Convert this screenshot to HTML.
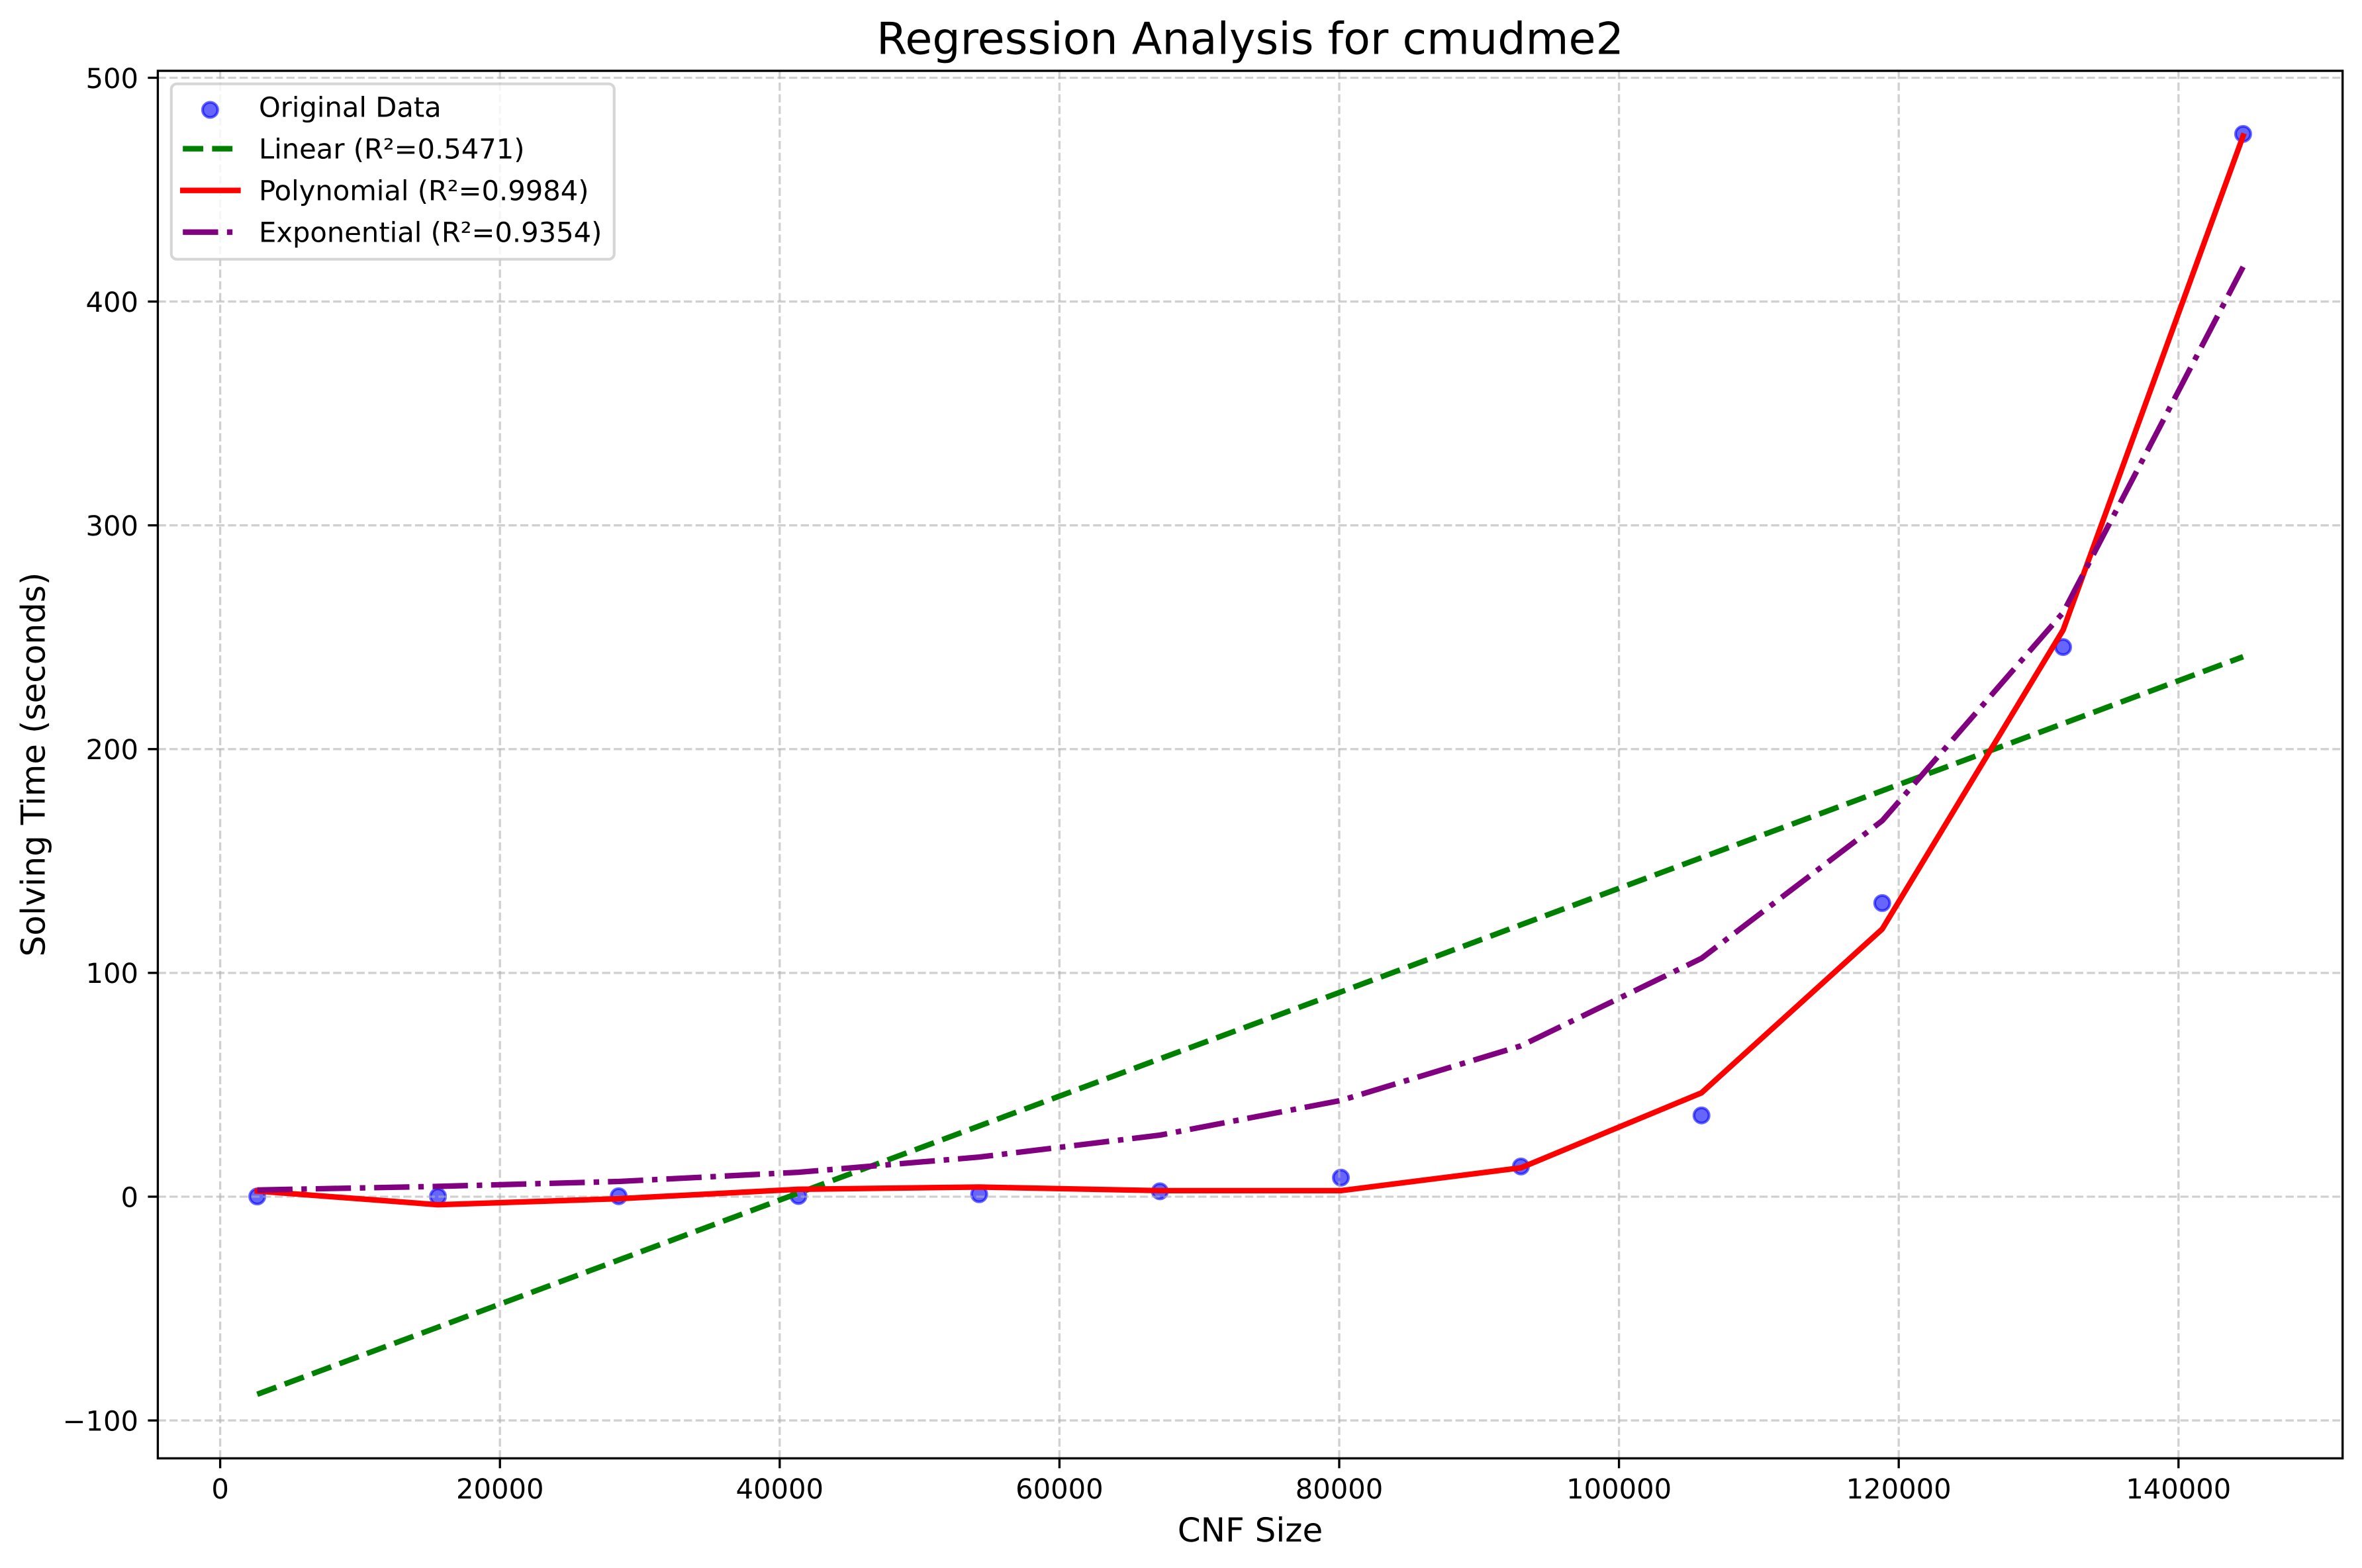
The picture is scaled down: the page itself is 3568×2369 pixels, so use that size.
<!DOCTYPE html>
<html lang="en">
<head>
<meta charset="utf-8">
<title>Regression Analysis for cmudme2</title>
<style>
html,body{margin:0;padding:0;background:#fff;}
svg{display:block;}
text{font-family:"DejaVu Sans","Liberation Sans",sans-serif;fill:#000;text-rendering:geometricPrecision;}
</style>
</head>
<body>
<svg id="chart" xmlns="http://www.w3.org/2000/svg" width="3568" height="2369" viewBox="0 0 3568 2369">
  <rect x="0" y="0" width="3568" height="2369" fill="#ffffff"></rect>
  <g id="scatter-layer"></g>
  <g id="grid-layer"></g>
  <g id="line-layer"></g>
  <g id="axis-layer"></g>
  <text x="1888.5" y="81.7" text-anchor="middle" font-size="66.67">Regression Analysis for cmudme2</text>
  <text x="1888.5" y="2329" text-anchor="middle" font-size="50">CNF Size</text>
  <text transform="translate(67.5 1155) rotate(-90)" text-anchor="middle" font-size="50">Solving Time (seconds)</text>
  <g>
    <rect x="258.8" y="126.7" width="669" height="265" rx="8.33" ry="8.33" fill="#ffffff" fill-opacity="0.8" stroke="#cccccc" stroke-opacity="0.8" stroke-width="4.17"></rect>
    <g>
      <circle cx="317.4" cy="166" r="11.41" fill="#0000ff" fill-opacity="0.6" stroke="#0000ff" stroke-opacity="0.6" stroke-width="4.17"></circle>
      <text x="391" y="176.7" font-size="41.67">Original Data</text>
    </g>
    <g>
      <line x1="276.2" y1="224.7" x2="359.5" y2="224.7" stroke="#008000" stroke-width="8.33" stroke-dasharray="30.83 13.33"></line>
      <text x="391" y="239.6" font-size="41.67">Linear (R²=0.5471)</text>
    </g>
    <g>
      <line x1="276.2" y1="287.7" x2="359.5" y2="287.7" stroke="#ff0000" stroke-width="8.33" stroke-linecap="square"></line>
      <text x="391" y="302.5" font-size="41.67">Polynomial (R²=0.9984)</text>
    </g>
    <g>
      <line x1="276.2" y1="350.7" x2="359.5" y2="350.7" stroke="#800080" stroke-width="8.33" stroke-dasharray="53.33 13.33 8.33 13.33"></line>
      <text x="391" y="365.4" font-size="41.67">Exponential (R²=0.9354)</text>
    </g>
  </g>
</svg>
<script>
const cnfSizes = [2650, 15570, 28490, 41340, 54260, 67180, 80120, 92990, 105900, 118820, 131750, 144620];
const solvingTimes = [0.1, 0.1, 0.2, 0.3, 1.1, 2.4, 8.5, 13.5, 36.3, 131.2, 245.6, 474.9];
const linearFit = [-88.3, -58.3, -28.3, 1.6, 31.6, 61.6, 91.5, 121.5, 151.5, 181.4, 211.4, 241.3];
const polynomialFit = [2.5, -3.6, -0.9, 3.3, 4.3, 2.7, 2.7, 12.9, 46.4, 119.6, 253.2, 474.0];
const exponentialFit = [3.0, 4.6, 6.8, 10.9, 17.7, 27.5, 43.0, 67.4, 106.5, 168.0, 261.0, 415.5];
const xTickValues = [0, 20000, 40000, 60000, 80000, 100000, 120000, 140000];
const xTickLabels = ['0', '20000', '40000', '60000', '80000', '100000', '120000', '140000'];
const yTickValues = [-100, 0, 100, 200, 300, 400, 500];
const yTickLabels = ['\u2212100', '0', '100', '200', '300', '400', '500'];

const NS = 'http://www.w3.org/2000/svg';
const plotLeft = 238.4, plotRight = 3538.7, plotTop = 107, plotBottom = 2203.3;
function xScale(v) { return 332.6 + v * 0.02113; }
function yScale(v) { return 1808 - v * 3.381; }
function make(tag, attrs) {
  const el = document.createElementNS(NS, tag);
  for (const k in attrs) el.setAttribute(k, attrs[k]);
  return el;
}

const scatterLayer = document.getElementById('scatter-layer');
cnfSizes.forEach(function (x, i) {
  const dot = make('circle', {cx: xScale(x), cy: yScale(solvingTimes[i]), r: 11.41, fill: '#0000ff', 'fill-opacity': 0.6, stroke: '#0000ff', 'stroke-opacity': 0.6, 'stroke-width': 4.17});
  
  
  scatterLayer.appendChild(dot);
});

const gridLayer = document.getElementById('grid-layer');
xTickValues.forEach(function (v) {
  const g = make('line', {x1: xScale(v), x2: xScale(v), y1: plotBottom, y2: plotTop, stroke: '#b0b0b0', 'stroke-opacity': 0.6, 'stroke-width': 3.33, 'stroke-dasharray': '12.33 5.33'});
  
  
  gridLayer.appendChild(g);
});
yTickValues.forEach(function (v) {
  const g = make('line', {x1: plotLeft, x2: plotRight, y1: yScale(v), y2: yScale(v), stroke: '#b0b0b0', 'stroke-opacity': 0.6, 'stroke-width': 3.33, 'stroke-dasharray': '12.33 5.33'});
  
  
  gridLayer.appendChild(g);
});

function pointsFor(values) {
  return cnfSizes.map(function (x, i) { return xScale(x).toFixed(2) + ',' + yScale(values[i]).toFixed(2); }).join(' ');
}
const lineLayer = document.getElementById('line-layer');

const linearLine = make('polyline', {points: pointsFor(linearFit), fill: 'none', stroke: '#008000', 'stroke-width': 8.33, 'stroke-dasharray': '30.83 13.33', 'stroke-linejoin': 'round'});


lineLayer.appendChild(linearLine);

const polynomialLine = make('polyline', {points: pointsFor(polynomialFit), fill: 'none', stroke: '#ff0000', 'stroke-width': 8.33, 'stroke-linecap': 'square', 'stroke-linejoin': 'round'});


lineLayer.appendChild(polynomialLine);

const exponentialLine = make('polyline', {points: pointsFor(exponentialFit), fill: 'none', stroke: '#800080', 'stroke-width': 8.33, 'stroke-dasharray': '53.33 13.33 8.33 13.33', 'stroke-linejoin': 'round'});


lineLayer.appendChild(exponentialLine);

const axisLayer = document.getElementById('axis-layer');
xTickValues.forEach(function (v, i) {
  const tick = make('line', {x1: xScale(v), x2: xScale(v), y1: plotBottom, y2: plotBottom + 15, stroke: '#000', 'stroke-width': 3.33});
  
  
  axisLayer.appendChild(tick);
  const label = make('text', {x: xScale(v), y: 2264, 'text-anchor': 'middle', 'font-size': 41.67});
  label.textContent = xTickLabels[i];
  
  
  axisLayer.appendChild(label);
});
yTickValues.forEach(function (v, i) {
  const tick = make('line', {x1: plotLeft - 15, x2: plotLeft, y1: yScale(v), y2: yScale(v), stroke: '#000', 'stroke-width': 3.33});
  
  
  axisLayer.appendChild(tick);
  const label = make('text', {x: 209, y: yScale(v) + 15.3, 'text-anchor': 'end', 'font-size': 41.67});
  label.textContent = yTickLabels[i];
  
  
  axisLayer.appendChild(label);
});

const frame = make('rect', {x: plotLeft, y: plotTop, width: plotRight - plotLeft, height: plotBottom - plotTop, fill: 'none', stroke: '#000', 'stroke-width': 3.33});


axisLayer.appendChild(frame);
</script>
</body>
</html>
